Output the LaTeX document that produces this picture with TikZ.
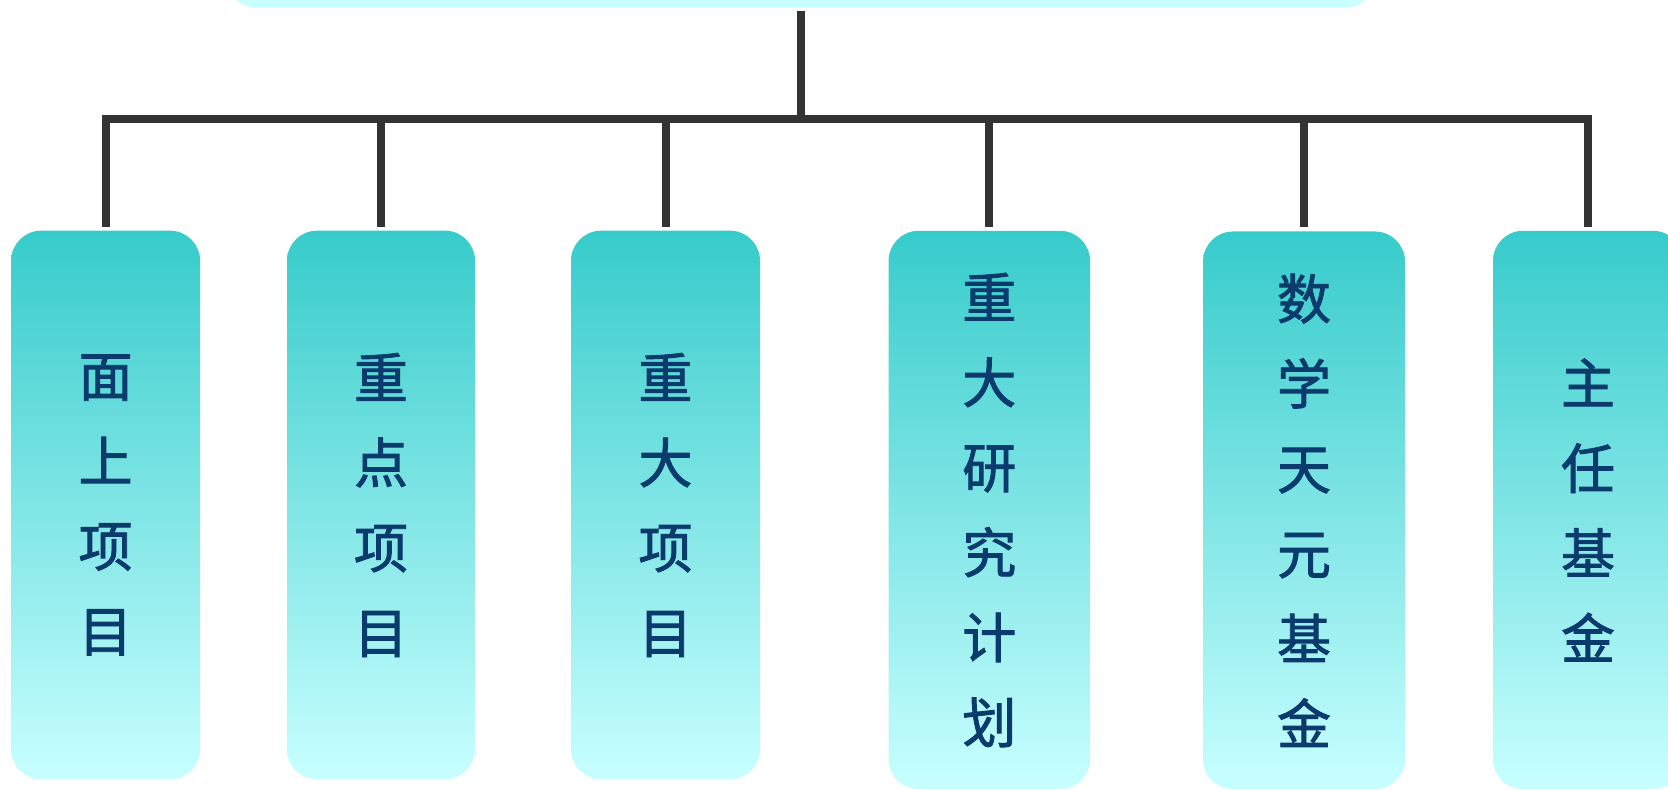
\documentclass[tikz,border=0pt]{standalone}
\usepackage{fontspec}
\newfontfamily\cjk[FakeBold=1.6]{Noto Sans CJK SC}
\definecolor{linec}{HTML}{333333}
\definecolor{toptl}{HTML}{37CBCB}
\definecolor{botcy}{HTML}{C8FFFF}
\definecolor{txtc}{HTML}{0B3A6C}
\begin{document}
\begin{tikzpicture}[x=0.5pt,y=-0.5pt,
  cbox/.style={rounded corners=15pt, top color=toptl, bottom color=botcy, draw=none, inner sep=0pt,
    font=\cjk\fontsize{27}{42.5}\selectfont, text=txtc, align=center},
  conn/.style={draw=linec, line width=4pt}]
\useasboundingbox (0,0) rectangle (1668,790);
\clip (0,0) rectangle (1668,790);
\node[rounded corners=15pt, fill=botcy, minimum width=575pt, minimum height=50pt, inner sep=0pt] (top) at (801,-42.7) {};
\node[cbox, minimum width=94.5pt, minimum height=274.3pt] (b1) at (105.6,505) {面\\上\\项\\目};
\node[cbox, minimum width=94pt, minimum height=274.3pt] (b2) at (381,505) {重\\点\\项\\目};
\node[cbox, minimum width=94.5pt, minimum height=274.3pt] (b3) at (665.5,505) {重\\大\\项\\目};
\node[cbox, minimum width=100.7pt, minimum height=279.2pt] (b4) at (989.3,510) {重\\大\\研\\究\\计\\划};
\node[cbox, minimum width=101pt, minimum height=278.8pt] (b5) at (1304,510.3) {数\\学\\天\\元\\基\\金};
\node[cbox, minimum width=95pt, minimum height=279.2pt] (b6) at (1588,510) {主\\任\\基\\金};
\coordinate (j) at (801,119);
\draw[conn] ([yshift=-1.85pt]top.south) -- (j);
\foreach \b in {b1,b2,b3,b4,b5,b6}{
  \draw[conn] (j) -| ([yshift=1.85pt]\b.north);
}
\end{tikzpicture}
\end{document}
